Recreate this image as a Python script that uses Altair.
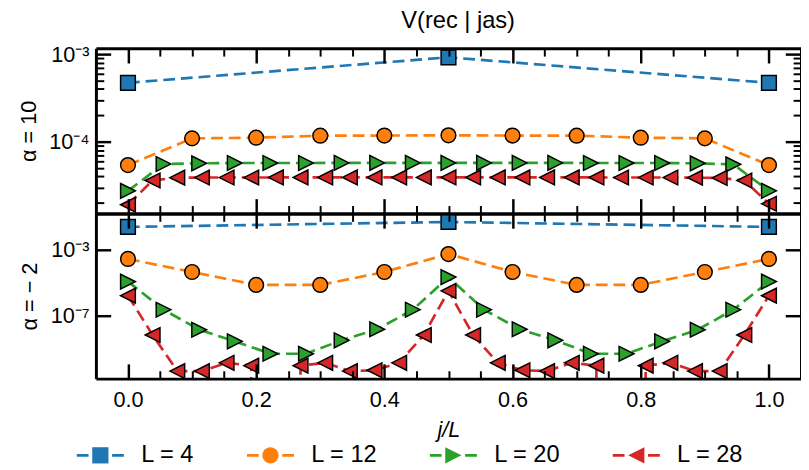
import altair as alt
import numpy as np
import pandas as pd

SERIES = ["L = 4", "L = 12", "L = 20", "L = 28"]
SERIES_CODES = ["4", "12", "20", "28"]
COLORS = ["#1f77b4", "#ff7f0e", "#2ca02c", "#d62728"]

# alpha = 10 panel (one value per marker)
a10_L4 = [4.7e-4, 9.2e-4, 4.7e-4]
a10_L12 = [5.4e-5, 1.09e-4, 1.11e-4, 1.17e-4, 1.175e-4, 1.18e-4,
           1.175e-4, 1.17e-4, 1.11e-4, 1.09e-4, 5.4e-5]
a10_L20 = [2.74e-5, 5.56e-5, 5.65e-5, 5.70e-5, 5.70e-5, 5.70e-5, 5.72e-5,
           5.72e-5, 5.72e-5, 5.72e-5, 5.72e-5, 5.72e-5, 5.72e-5, 5.70e-5,
           5.70e-5, 5.70e-5, 5.65e-5, 5.50e-5, 2.74e-5]
a10_L28 = [1.90e-5, 3.60e-5, 3.88e-5, 3.89e-5, 3.89e-5, 3.89e-5, 3.90e-5,
           3.90e-5, 3.90e-5, 3.90e-5, 3.90e-5, 3.90e-5, 3.90e-5, 3.90e-5,
           3.90e-5, 3.90e-5, 3.90e-5, 3.90e-5, 3.90e-5, 3.90e-5, 3.89e-5,
           3.89e-5, 3.89e-5, 3.88e-5, 3.85e-5, 3.60e-5, 1.95e-5]

# alpha = -2 panel (0.0 entries are exact zeros, drawn off the log axis)
am2_L4 = [2.42e-2, 4.81e-2, 2.42e-2]
am2_L12 = [2.80e-4, 4.57e-5, 7.57e-6, 7.57e-6, 4.57e-5, 5.53e-4,
           4.57e-5, 7.57e-6, 7.57e-6, 4.57e-5, 2.80e-4]
am2_L20 = [1.20e-5, 2.40e-7, 1.48e-8, 2.95e-9, 5.25e-10, 5.25e-10, 3.39e-9,
           1.58e-8, 2.40e-7, 2.24e-5, 2.40e-7, 1.58e-8, 3.39e-9, 5.25e-10,
           5.25e-10, 2.95e-9, 1.48e-8, 2.40e-7, 1.20e-5]
am2_L28 = [1.70e-6, 7.08e-9, 4.68e-11, 4.68e-11, 1.48e-10, 1.0e-10, 0.0,
           1.0e-10, 1.48e-10, 4.68e-11, 5.25e-11, 1.48e-10, 7.08e-9, 3.31e-6,
           7.08e-9, 1.48e-10, 5.25e-11, 4.68e-11, 1.48e-10, 1.0e-10, 0.0,
           1.0e-10, 1.48e-10, 4.68e-11, 4.68e-11, 7.08e-9, 1.70e-6]

X_MAJOR = [0.0, 0.2, 0.4, 0.6, 0.8, 1.0]
X_TICKS = [round(0.05 * i, 2) for i in range(21)]
TOP_MAJOR = [1e-3, 1e-4]
TOP_LABELS = ["10⁻³", "10⁻⁴"]
TOP_MINOR = [2e-5, 3e-5, 4e-5, 5e-5, 6e-5, 7e-5, 8e-5, 9e-5,
             2e-4, 3e-4, 4e-4, 5e-4, 6e-4, 7e-4, 8e-4, 9e-4]
BOT_MAJOR = [1e-3, 1e-7]
BOT_LABELS = ["10⁻³", "10⁻⁷"]

ZERO_FLOOR = 1e-300  # log axis: zeros fall far below the panel, like matplotlib's clipping

rows = []
for panel, vals in (("top", [a10_L4, a10_L12, a10_L20, a10_L28]),
                    ("bot", [am2_L4, am2_L12, am2_L20, am2_L28])):
    for s, code, v in zip(SERIES, SERIES_CODES, vals):
        n = len(v)
        for j, y in enumerate(v):
            rows.append(dict(panel=panel, series=s, series_m=code,
                             x=j / (n - 1), y=max(y, ZERO_FLOOR)))
df = pd.DataFrame(rows)

LEG_SIZE = 272
EDGE_W = 1.5
EXT = 2.9

# marker paths (invisible move-to points give every legend symbol the same extent)
PRE = f"M-{EXT},0M{EXT},0"
SHAPES = [PRE + "M-1,-1H1V1H-1Z",
          PRE + "M1,0A1,1,0,1,1,-1,0A1,1,0,1,1,1,0Z",
          PRE + "M1,0L-1,1L-1,-1Z",
          PRE + "M-1,0L1,-1L1,1Z"]
# legend line pieces: two thin parallel strokes each side (same stroke width as markers)
LINE_SYM = (f"M-{EXT},-0.08H-1.45M-{EXT},0.08H-1.45"
            f"M1.45,-0.08H{EXT}M1.45,0.08H{EXT}")

FONT = "Liberation Sans"
W = 717
H = 168
XDOM = [-0.05, 1.05]
LX, LY = -7.5, 402

XTEST = "abs(datum.value * 5 - round(datum.value * 5)) < 0.001"
YTEST = "abs(log(datum.value) / LN10 - round(log(datum.value) / LN10)) < 0.001"


def cond(test, a, b):
    return {"condition": {"test": test, "value": a}, "value": b}


def label_expr(vals, labs):
    expr = "''"
    for v, lab in zip(vals[::-1], labs[::-1]):
        expr = f"abs(log(datum.value) / LN10 - ({np.log10(v):.3f})) < 0.01 ? '{lab}' : " + expr
    return expr


leg_common = dict(orient="none", legendX=LX, legendY=LY, direction="horizontal",
                  title=None, symbolSize=LEG_SIZE, labelOffset=29.5, columnPadding=50,
                  labelFontSize=24, labelFont=FONT, padding=0, symbolOpacity=1,
                  symbolStrokeWidth=EDGE_W)
LEG_LINE = alt.Legend(symbolType=LINE_SYM, symbolDash=[1, 0], labelColor="black",
                      **leg_common)
# marker legend laid over the line legend; its transparent labels keep identical spacing
LEG_PTS = alt.Legend(symbolStrokeColor="black", labelOpacity=0,
                     labelExpr="'L = ' + datum.label", **leg_common)


def panel(name, ydom, major, labels, minor, ytitle, bottom):
    base = alt.Chart(df[df.panel == name])
    xsc = alt.Scale(domain=XDOM, nice=False, zero=False)
    ysc = alt.Scale(type="log", domain=ydom, nice=False)
    yticks = major + minor

    ax_x_main = alt.Axis(values=X_MAJOR, format=".1f", labels=bottom, ticks=False,
                         domain=True, domainWidth=3, labelPadding=11,
                         title="j/L" if bottom else None, titleFontStyle="italic",
                         titlePadding=10, zindex=1, labelFlush=False)
    ax_x_in_b = alt.Axis(orient="top", offset=-H, values=X_TICKS, labels=False,
                         domain=False, title=None, zindex=1,
                         tickSize=cond(XTEST, 15, 8), tickWidth=cond(XTEST, 2.5, 2))
    ax_x_in_t = alt.Axis(orient="bottom", offset=-H, values=X_TICKS, labels=False,
                         domain=True, domainWidth=3, title=None, zindex=1,
                         tickSize=cond(XTEST, 15, 8), tickWidth=cond(XTEST, 2.5, 2))
    ax_y_main = alt.Axis(orient="left", values=major, labelExpr=label_expr(major, labels),
                         ticks=False, domain=True, domainWidth=3, labelPadding=7,
                         title=ytitle, titlePadding=9, zindex=1, labelFlush=False)
    ax_y_in_l = alt.Axis(orient="right", offset=-W, values=yticks, labels=False,
                         domain=False, title=None, zindex=1,
                         tickSize=cond(YTEST, 15, 8), tickWidth=cond(YTEST, 2.5, 2))
    ax_y_in_r = alt.Axis(orient="left", offset=-W, values=yticks, labels=False,
                         domain=True, domainWidth=3, title=None, zindex=1,
                         tickSize=cond(YTEST, 16, 8), tickWidth=cond(YTEST, 2.5, 2))

    layers = []
    for i, s in enumerate(SERIES):
        f = alt.datum.series == s
        line = base.transform_filter(f).mark_line(
            strokeWidth=2.7, strokeDash=[12, 6], clip=True
        ).encode(
            x=alt.X("x:Q", scale=xsc, axis=ax_x_main if i == 0 else None),
            y=alt.Y("y:Q", scale=ysc, axis=ax_y_main if i == 0 else None),
            stroke=alt.Stroke("series:N", scale=alt.Scale(domain=SERIES, range=COLORS),
                              legend=LEG_LINE),
        )
        pts = base.transform_filter(f).mark_point(
            filled=True, opacity=1, size=225, stroke="black", strokeWidth=EDGE_W, clip=True
        ).encode(
            x=alt.X("x:Q", scale=xsc, axis=ax_x_in_b if i == 0 else None),
            y=alt.Y("y:Q", scale=ysc, axis=ax_y_in_l if i == 0 else None),
            fill=alt.Fill("series_m:N",
                          scale=alt.Scale(domain=SERIES_CODES, range=COLORS),
                          legend=LEG_PTS),
            shape=alt.Shape("series_m:N",
                            scale=alt.Scale(domain=SERIES_CODES, range=SHAPES),
                            legend=LEG_PTS),
        )
        layers += [line, pts]
    ghost = base.mark_point(opacity=0, size=1, clip=True).encode(
        x=alt.X("x:Q", scale=xsc, axis=ax_x_in_t),
        y=alt.Y("y:Q", scale=ysc, axis=ax_y_in_r),
    )
    layers.append(ghost)
    return alt.layer(*layers).resolve_axis(x="independent", y="independent").properties(
        width=W, height=H)


top = panel("top", [1.513e-5, 1.168e-3], TOP_MAJOR, TOP_LABELS, TOP_MINOR,
            "α = 10", False)
bot = panel("bot", [1.637e-11, 0.1581], BOT_MAJOR, BOT_LABELS, [],
            "α = − 2", True)

chart = alt.vconcat(top, bot, spacing=0, bounds="flush").properties(
    title=alt.Title("V(rec | jas)", fontSize=24, fontWeight="normal", font=FONT,
                    color="black", anchor="start", frame="group", dx=310.6, offset=11),
    autosize=alt.AutoSizeParams(type="none"),
    padding={"left": 89.4, "top": 37, "right": 0, "bottom": 425},
).configure_view(stroke=None).configure_axis(
    labelFont=FONT, titleFont=FONT, labelFontSize=22, titleFontSize=22,
    labelColor="black", titleColor="black", titleFontWeight="normal",
    grid=False, tickColor="black", domainColor="black",
).configure_legend(labelFont=FONT)

chart.save("out.html", embed_options={"renderer": "svg", "actions": False})
